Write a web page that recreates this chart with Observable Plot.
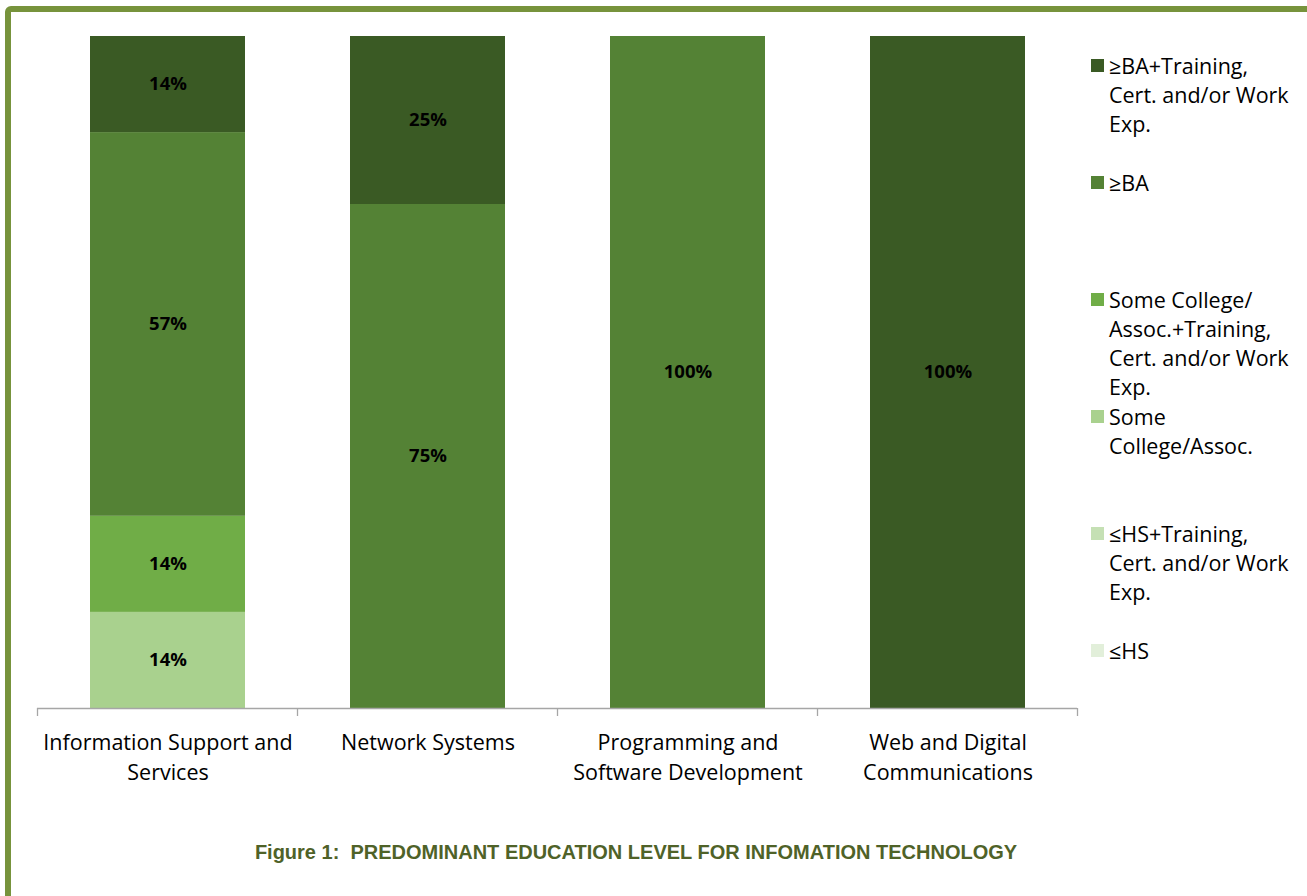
<!DOCTYPE html>
<html>
<head>
<meta charset="utf-8">
<script src="https://cdn.jsdelivr.net/npm/d3@7"></script>
<script src="https://cdn.jsdelivr.net/npm/@observablehq/plot@0.6"></script>
<style>
  html, body { margin: 0; padding: 0; background: #fff; overflow: hidden; width: 1307px; height: 896px; }
  #frame { position: absolute; left: 5px; top: 6px; width: 1400px; height: 1000px; border: 6px solid #77933c; border-radius: 6px; box-sizing: border-box; }
  #chart { position: absolute; left: 0; top: 0; }
  #legend { position: absolute; left: 1091px; top: 51px; font-family: "Open Sans", sans-serif; font-size: 21.5px; line-height: 29px; color: #000; }
  .item { display: flex; align-items: flex-start; height: 117px; }
  .sw { width: 13px; height: 13px; margin-top: 8px; margin-right: 5px; flex: none; }
  .lab { white-space: pre; }
  #title { position: absolute; left: 0; width: 1272px; top: 841px; text-align: center; white-space: pre;
           font-family: "Liberation Sans Narrow", "Liberation Sans", sans-serif; font-stretch: condensed; font-weight: bold; font-size: 20px; color: #4f6228; }
</style>
</head>
<body>
<div id="frame"></div>
<div id="chart"></div>
<div id="legend"></div>
<div id="title"></div>
<script>
const categories = ["Information Support and Services", "Network Systems", "Programming and Software Development", "Web and Digital Communications"];
const tickLabels = ["Information Support and\nServices", "Network Systems", "Programming and\nSoftware Development", "Web and Digital\nCommunications"];
const levels = ["≤HS", "≤HS+Training, Cert. and/or Work Exp.", "Some College/Assoc.", "Some College/Assoc.+Training, Cert. and/or Work Exp.", "≥BA", "≥BA+Training, Cert. and/or Work Exp."];
const legendLabels = ["≤HS", "≤HS+Training,\nCert. and/or Work\nExp.", "Some\nCollege/Assoc.", "Some College/\nAssoc.+Training,\nCert. and/or Work\nExp.", "≥BA", "≥BA+Training,\nCert. and/or Work\nExp."];
const levelColors = ["#e2efda", "#c5e0b4", "#a9d18e", "#70ad47", "#548235", "#3a5a24"];
// percent per level (bottom to top), per category
const infoSupportValues = [0, 0, 14.3, 14.3, 57.1, 14.3];
const networkValues = [0, 0, 0, 0, 75, 25];
const programmingValues = [0, 0, 0, 0, 100, 0];
const webValues = [0, 0, 0, 0, 0, 100];
const seriesByCategory = [infoSupportValues, networkValues, programmingValues, webValues];
const titleText = "Figure 1:  PREDOMINANT EDUCATION LEVEL FOR INFOMATION TECHNOLOGY";

const table = [];
categories.forEach((c, i) => levels.forEach((l, j) => table.push({category: c, level: l, value: seriesByCategory[i][j]})));

const plot = Plot.plot({
  width: 1090,
  height: 800,
  marginLeft: 37,
  marginRight: 13,
  marginTop: 36,
  marginBottom: 92,
  style: {fontFamily: "Open Sans, sans-serif", background: "transparent", overflow: "visible"},
  x: {domain: categories, paddingInner: 0.404, paddingOuter: 0.202, axis: null},
  y: {domain: [0, 100], axis: null},
  color: {domain: levels, range: levelColors},
  marks: [
    Plot.barY(table, {x: "category", y: "value", fill: "level"}),
    Plot.text(table.filter(d => d.value > 0), Plot.stackY({
      x: "category", y: "value", z: "level",
      text: d => `${Math.round(d.value)}%`,
      fill: "#000", fontWeight: "bold", fontSize: 18.5
    })),
    Plot.ruleY([0], {stroke: "#a6a6a6", strokeWidth: 1.3}),
    Plot.axisX({
      label: null, tickSize: 0, tickPadding: 20, fontSize: 21.5, lineHeight: 1.395, fill: "#000",
      tickFormat: d => tickLabels[categories.indexOf(d)]
    })
  ]
});
document.getElementById("chart").appendChild(plot);

// category boundary ticks, from the plot's own x and y scales
const xs = plot.scale("x"), ys = plot.scale("y");
const y0 = ys.apply(0);
const gap = (xs.step - xs.bandwidth) / 2;
const bounds = categories.map(c => xs.apply(c) - gap).concat([xs.apply(categories[categories.length - 1]) + xs.bandwidth + gap]);
d3.select(plot).append("g").selectAll("line").data(bounds).join("line")
  .attr("x1", d => d).attr("x2", d => d).attr("y1", y0).attr("y2", y0 + 8)
  .attr("stroke", "#a6a6a6").attr("stroke-width", 1.3);

// legend (top to bottom: reversed stack order)
const legend = d3.select("#legend");
levels.map((l, i) => i).reverse().forEach(i => {
  const it = legend.append("div").attr("class", "item");
  it.append("div").attr("class", "sw").style("background", levelColors[i]);
  it.append("div").attr("class", "lab").text(legendLabels[i]);
});
document.getElementById("title").textContent = titleText;
</script>
</body>
</html>
